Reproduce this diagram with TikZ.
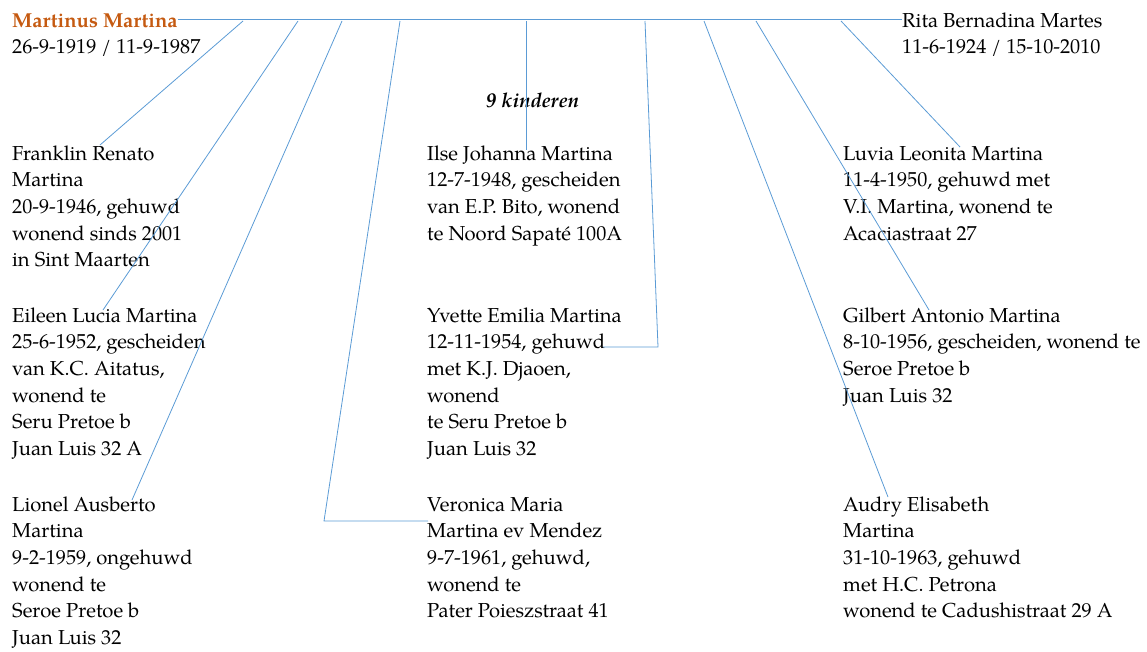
\documentclass[tikz,border=0pt]{standalone}
\usepackage{fontspec}
\setmainfont{TeX Gyre Pagella}
\definecolor{linkblue}{RGB}{91,155,213}
\definecolor{headorange}{RGB}{197,90,17}
\newcommand\stacklines[1]{\vtop{\baselineskip=26.7pt\halign{##\hfil\cr#1\crcr}}}
\begin{document}
\begin{tikzpicture}[x=1pt,y=-1pt,
  person/.style={anchor=base west,inner sep=0pt,font=\fontsize{20.2}{26.7}\selectfont},
  link/.style={draw=linkblue,line width=0.8pt},
]
\useasboundingbox (0,0) rectangle (1147,651);
% parents
\node[person,text=headorange,font=\fontsize{20.2}{26.7}\selectfont\bfseries] (father) at (12,27) {Martinus Martina};
\node[person] (fatherdates) at (12,53) {26-9-1919 / 11-9-1987};
\node[person] (mother) at (902,27) {\stacklines{Rita Bernadina Martes\cr 11-6-1924 / 15-10-2010}};
\node[person,font=\fontsize{20.2}{26.7}\selectfont\bfseries\itshape] (count) at (486,107) {9 kinderen};
% children
\node[person] (c1) at (12,160) {\stacklines{Franklin Renato\cr Martina\cr 20-9-1946, gehuwd\cr wonend sinds 2001\cr in Sint Maarten}};
\node[person] (c2) at (427,160) {\stacklines{Ilse Johanna Martina\cr 12-7-1948, gescheiden\cr van E.P. Bito, wonend\cr te Noord Sapaté 100A}};
\node[person] (c3) at (843,160) {\stacklines{Luvia Leonita Martina\cr 11-4-1950, gehuwd met\cr V.I. Martina, wonend te\cr Acaciastraat 27}};
\node[person] (c4) at (12,322) {\stacklines{Eileen Lucia Martina\cr 25-6-1952, gescheiden\cr van K.C. Aitatus,\cr wonend te\cr Seru Pretoe b\cr Juan Luis 32 A}};
\node[person] (c5) at (427,322) {\stacklines{Yvette Emilia Martina\cr 12-11-1954, gehuwd\cr met K.J. Djaoen,\cr wonend\cr te Seru Pretoe b\cr Juan Luis 32}};
\node[person] (c6) at (843,322) {\stacklines{Gilbert Antonio Martina\cr 8-10-1956, gescheiden, wonend te\cr Seroe Pretoe b\cr Juan Luis 32}};
\node[person] (c7) at (12,511) {\stacklines{Lionel Ausberto\cr Martina\cr 9-2-1959, ongehuwd\cr wonend te\cr Seroe Pretoe b\cr Juan Luis 32}};
\node[person] (c8) at (427,511) {\stacklines{Veronica Maria\cr Martina ev Mendez\cr 9-7-1961, gehuwd,\cr wonend te\cr Pater Poieszstraat 41}};
\node[person] (c9) at (843,511) {\stacklines{Audry Elisabeth\cr Martina\cr 31-10-1963, gehuwd\cr met H.C. Petrona\cr wonend te Cadushistraat 29 A}};
% points on the marriage line
\coordinate (m1) at (243,21);
\coordinate (m2) at (298,21);
\coordinate (m3) at (342,21);
\coordinate (m4) at (400,21);
\coordinate (m5) at (526,21);
\coordinate (m6) at (645,21);
\coordinate (m7) at (704,21);
\coordinate (m8) at (756,21);
\coordinate (m9) at (841,21);
% ends at the children
\coordinate (e1) at (100,145);
\coordinate (e4) at (103,310);
\coordinate (e7) at (132,500);
\coordinate (k8) at (324,521);
\coordinate (e8) at (428,521);
\coordinate (e2) at (526,150);
\coordinate (k5) at (658,347);
\coordinate (e5) at (603,347);
\coordinate (e9) at (888,497);
\coordinate (e6) at (929,310);
\coordinate (e3) at (960,147);
% marriage line
\draw[link] (father.east) ++(0,-1) coordinate (ml) -- (ml -| mother.west);
% children links
\draw[link] (m1) -- (e1);
\draw[link] (m2) -- (e4);
\draw[link] (m3) -- (e7);
\draw[link] (m4) -- (k8) -- (e8);
\draw[link] (m5) -- (e2);
\draw[link] (m6) -- (k5) -- (e5);
\draw[link] (m7) -- (e9);
\draw[link] (m8) -- (e6);
\draw[link] (m9) -- (e3);
\end{tikzpicture}
\end{document}
